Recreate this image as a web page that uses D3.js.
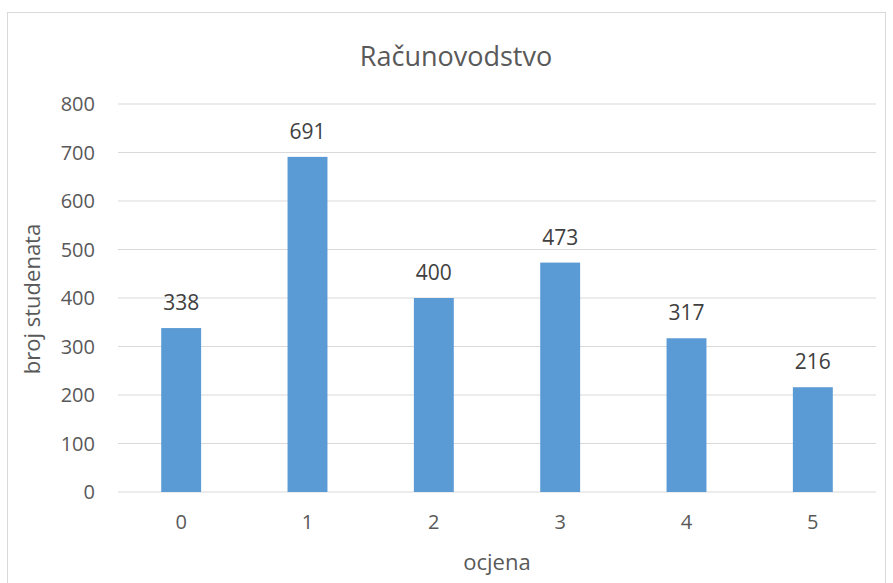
<!DOCTYPE html>
<html>
<head>
<meta charset="utf-8">
<script src="https://cdn.jsdelivr.net/npm/d3@7"></script>
<style>
  body { margin: 0; background: #fff; }
  text { font-family: "Open Sans", sans-serif; }
</style>
</head>
<body>
<svg id="chart" width="893" height="583"></svg>
<script>
// data
var grades = ["0", "1", "2", "3", "4", "5"];
var counts = [338, 691, 400, 473, 317, 216];
var yTicks = [0, 100, 200, 300, 400, 500, 600, 700, 800];

var svg = d3.select("#chart");
var margin = {left: 118, right: 17, top: 104, bottom: 91};
var W = 893, H = 583;

// outer chart frame
svg.append("rect")
  .attr("x", 7.5).attr("y", 12.5)
  .attr("width", 878).attr("height", 600)
  .attr("fill", "#fff").attr("stroke", "#d9d9d9");

var x = d3.scaleBand()
  .domain(grades)
  .range([margin.left, W - margin.right])
  .paddingInner(0.684).paddingOuter(0.342);

var y = d3.scaleLinear()
  .domain([0, 800])
  .range([H - margin.bottom, margin.top]);

// gridlines
svg.append("g").selectAll("line")
  .data(yTicks)
  .join("line")
  .attr("x1", margin.left).attr("x2", W - margin.right)
  .attr("y1", function(d) { return y(d); })
  .attr("y2", function(d) { return y(d); })
  .attr("stroke", "#d9d9d9").attr("stroke-width", 1);

// y tick labels
svg.append("g").selectAll("text")
  .data(yTicks)
  .join("text")
  .attr("x", 95)
  .attr("y", function(d) { return y(d); })
  .attr("dy", "0.36em")
  .attr("text-anchor", "end")
  .style("font-size", "20px")
  .attr("fill", "#595959")
  .text(function(d) { return d; });

// bars
svg.append("g").selectAll("rect")
  .data(counts)
  .join("rect")
  .attr("x", function(d, i) { return x(grades[i]); })
  .attr("y", function(d) { return y(d); })
  .attr("width", x.bandwidth())
  .attr("height", function(d) { return y(0) - y(d); })
  .attr("fill", "#5b9bd5");

// value labels
svg.append("g").selectAll("text")
  .data(counts)
  .join("text")
  .attr("x", function(d, i) { return x(grades[i]) + x.bandwidth() / 2; })
  .attr("y", function(d) { return y(d) - 18; })
  .attr("text-anchor", "middle")
  .style("font-size", "21px")
  .attr("fill", "#404040")
  .text(function(d) { return d; });

// x tick labels
svg.append("g").selectAll("text")
  .data(grades)
  .join("text")
  .attr("x", function(d) { return x(d) + x.bandwidth() / 2; })
  .attr("y", y(0) + 37)
  .attr("text-anchor", "middle")
  .style("font-size", "20px")
  .attr("fill", "#595959")
  .text(function(d) { return d; });

// title
svg.append("text")
  .attr("x", 456).attr("y", 66)
  .attr("text-anchor", "middle")
  .style("font-size", "27px")
  .attr("fill", "#595959")
  .text("Računovodstvo");

// axis titles
svg.append("text")
  .attr("x", 497).attr("y", 570)
  .attr("text-anchor", "middle")
  .style("font-size", "22px")
  .attr("fill", "#595959")
  .text("ocjena");

svg.append("text")
  .attr("transform", "translate(40," + 299 + ") rotate(-90)")
  .attr("text-anchor", "middle")
  .style("font-size", "22px")
  .attr("fill", "#595959")
  .text("broj studenata");
</script>
</body>
</html>
